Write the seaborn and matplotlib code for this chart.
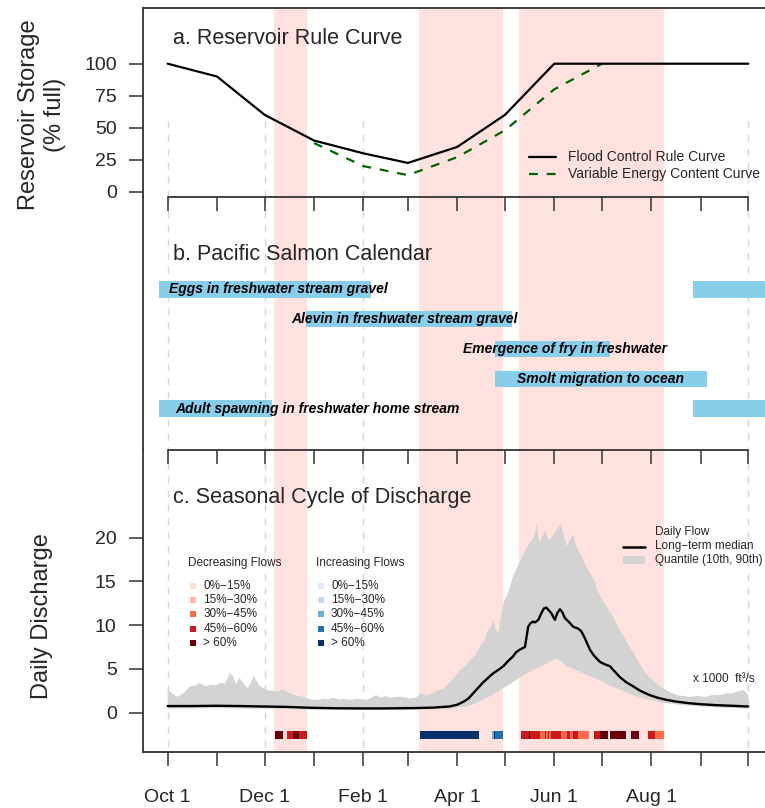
import numpy as np
import pandas as pd
import matplotlib
matplotlib.use("Agg")
import matplotlib.pyplot as plt
import seaborn as sns
from matplotlib.patches import Rectangle
from matplotlib.lines import Line2D

# ------------------------------------------------------------------ data
month_days = [0, 31, 61, 92, 123, 151, 182, 212, 243, 273, 304, 335, 365]
label_days = [0, 61, 123, 182, 243, 304]
label_text = ["Oct 1", "Dec 1", "Feb 1", "Apr 1", "Jun 1", "Aug 1"]
grid_days = [0, 61, 123, 182, 243, 304, 365]

shade_start = [66.8, 158.0, 220.8]
shade_end = [87.4, 210.7, 311.8]

# a. reservoir rule curve (% full)
rule_days = [0, 31, 61, 92, 123, 151, 182, 212, 243, 365]
rule_vals = [100, 90, 60, 40, 30, 22.5, 35, 60, 100, 100]
vec_days = [92, 123, 151, 182, 212, 243, 273]
vec_vals = [38, 20, 13, 27, 48, 80, 100]

# b. salmon calendar (start day, end day)
stage_names = ["Eggs in freshwater stream gravel",
               "Alevin in freshwater stream gravel",
               "Emergence of fry in freshwater",
               "Smolt migration to ocean",
               "Adult spawning in freshwater home stream"]
stage_start = [[-5.7, 330], [86.9], [205.7], [205.7], [-5.7, 330]]
stage_end = [[127.7, 381], [216.2], [277.8], [339.3], [65.3, 381]]
stage_label_day = [69.3, 149.2, 249.7, 272.3, 94.2]

# c. discharge (x 1000 ft3/s)
q90_days = [0, 3, 6, 10, 14, 18, 20, 24, 27, 30, 33, 36, 39, 41, 43, 45, 47, 50,
            52, 54, 56, 58, 62, 66, 69, 72, 76, 79, 83, 87, 90, 94, 98, 101, 104,
            108, 111, 115, 119, 122, 125, 128, 131, 134, 137, 140, 144, 148, 152,
            156, 159, 163, 167, 171, 174, 177, 180, 184, 187, 190, 193, 196, 199,
            201, 203, 205, 206, 208, 210, 211, 214, 217, 219, 221, 223, 226, 229,
            231, 232, 233, 234, 236, 237, 239, 240, 242, 243, 245, 247, 248, 250,
            251, 253, 255, 256, 258, 259, 261, 263, 266, 268, 270, 272, 274, 276,
            278, 280, 282, 284, 286, 288, 290, 293, 296, 299, 302, 305, 308, 311,
            315, 320, 324, 328, 333, 338, 342, 347, 351, 355, 358, 362, 365]
q90_vals = [2.6, 2.2, 1.8, 2.2, 3.0, 3.1, 3.4, 3.0, 3.2, 3.1, 3.4, 3.3, 4.5, 4.2,
            3.2, 4.0, 3.5, 2.8, 3.3, 4.2, 3.6, 3.0, 2.6, 2.5, 2.4, 2.7, 2.3, 2.0,
            1.9, 1.7, 1.5, 1.45, 1.6, 1.5, 1.7, 1.5, 1.6, 1.45, 1.6, 1.5, 1.45,
            1.7, 2.0, 1.7, 1.9, 1.7, 1.8, 1.8, 1.6, 1.7, 2.2, 2.0, 2.25, 2.6, 2.8,
            3.4, 4.0, 4.9, 5.3, 6.0, 6.5, 7.5, 8.2, 9.3, 9.8, 10.6, 9.5, 9.1, 11.5,
            12.5, 13.7, 15.5, 16.3, 17.1, 17.8, 19.0, 19.7, 20.5, 21.8, 20.0, 19.4,
            20.3, 20.9, 20.0, 19.7, 20.2, 20.5, 21.0, 21.6, 21.0, 19.5, 19.0, 19.8,
            20.3, 19.5, 18.6, 18.2, 17.5, 16.7, 15.8, 15.2, 14.0, 13.3, 12.6, 12.1,
            11.5, 11.0, 10.2, 9.5, 9.0, 8.3, 7.6, 6.8, 5.8, 4.9, 4.2, 3.7, 3.2, 2.8,
            2.4, 2.0, 1.9, 1.8, 1.9, 1.8, 2.0, 2.0, 2.2, 2.2, 2.4, 2.6, 2.0]
q10_days = [0, 30, 60, 90, 120, 146, 177, 188, 193, 198, 204, 209, 214, 219, 224,
            229.8, 234, 238, 241, 244.5, 247, 250.8, 255, 261, 266, 271.7, 277,
            282, 287, 292.6, 298, 303, 308, 313.6, 324, 334.7, 350, 365]
q10_vals = [0.45, 0.5, 0.45, 0.35, 0.3, 0.3, 0.4, 0.7, 1.0, 1.45, 2.0, 2.6, 3.1,
            3.7, 4.3, 4.9, 5.2, 5.6, 5.9, 6.2, 5.9, 5.3, 5.0, 4.5, 4.1, 3.7, 3.2,
            2.8, 2.4, 2.0, 1.7, 1.45, 1.25, 1.07, 0.85, 0.7, 0.55, 0.46]
med_days = [0, 15, 30, 45, 60, 75, 90, 105, 120, 135, 146, 155, 167, 177, 182,
            186, 189, 192, 195, 198, 201, 204.7, 208, 211, 214, 217, 219, 221.4,
            224.6, 226.6, 228, 229.8, 231, 233, 235, 236.5, 238, 239.5, 241, 243.4,
            245, 246.6, 248, 249.7, 252, 255, 258, 260, 262, 265.4, 268, 271.7, 275,
            278, 281, 284, 288, 292.6, 297, 303, 308, 313.6, 320, 328, 336, 345,
            355, 365]
med_vals = [0.75, 0.75, 0.78, 0.75, 0.7, 0.65, 0.55, 0.5, 0.48, 0.48, 0.5, 0.52,
            0.57, 0.7, 0.9, 1.25, 1.6, 2.2, 2.8, 3.4, 3.9, 4.5, 4.9, 5.3, 5.9, 6.4,
            6.9, 7.2, 7.5, 9.8, 10.2, 10.4, 10.3, 10.6, 11.4, 11.9, 12.0, 11.7, 11.4,
            10.6, 11.4, 11.8, 11.5, 10.8, 10.4, 9.8, 9.6, 9.3, 8.6, 7.2, 6.5, 5.8,
            5.5, 5.3, 4.7, 4.1, 3.5, 3.0, 2.5, 2.0, 1.7, 1.45, 1.25, 1.07, 0.95,
            0.85, 0.78, 0.7]

# flow-change strip: start day, end day, class
strip_start = [67.3, 75.2, 79.0, 82.5, 158.6, 203.8, 204.9, 205.5,
               222.1, 227.1, 227.8, 234.1, 237.0, 237.6, 238.9, 239.7, 240.8,
               247.3, 251.2, 252.9, 255.0, 258.1, 268.0, 271.8, 278.1, 291.3,
               302.0, 306.4]
strip_end = [72.2, 79.0, 82.5, 87.5, 195.7, 204.9, 205.5, 210.8,
             227.1, 227.8, 234.1, 237.0, 237.6, 238.9, 239.7, 240.8, 247.3,
             251.2, 252.9, 255.0, 258.1, 264.9, 271.8, 277.0, 288.1, 296.3,
             306.4, 311.8]
strip_class = ["D5", "D4", "D5", "D4", "I5", "I3", "I5", "I4",
               "D4", "D5", "D4", "D3", "D4", "D3", "D4", "D3", "D4",
               "D3", "D4", "D3", "D4", "D3", "D4", "D5", "D5", "D5",
               "D4", "D3"]
class_labels = ["0%\u221215%", "15%\u221230%", "30%\u221245%", "45%\u221260%", "> 60%"]
dec_colors = ["#FEE0D2", "#FCBBA1", "#FB6A4A", "#CB181D", "#67000D"]
inc_colors = ["#DEEBF7", "#C6DBEF", "#6BAED6", "#2171B5", "#08306B"]

# ------------------------------------------------------------------ style
sns.set_theme(style="white")
plt.rcParams["font.family"] = ["Liberation Sans", "DejaVu Sans"]
plt.rcParams["axes.unicode_minus"] = True

W, H = 765, 808
fig = plt.figure(figsize=(W / 100, H / 100), dpi=100)
fig.patch.set_facecolor("white")

XL = (-15.5, 380.5)
PXD = (748.3 - 167.7) / 365.0
LEFT = 167.7 - (0 - XL[0]) * PXD
WIDTH = (XL[1] - XL[0]) * PXD
SPINE = "#333333"
SHADE = "#FFE2DE"
GRIDC = "#D6D6D6"


def fx(x):
    return x / W


def fy(y):
    return 1 - y / H


def add_ax(top, bottom, z):
    ax = fig.add_axes([LEFT / W, 1 - bottom / H, WIDTH / W, (bottom - top) / H])
    ax.set_facecolor("none")
    ax.set_zorder(z)
    ax.set_xlim(*XL)
    for s in ax.spines.values():
        s.set_visible(False)
        s.set_color(SPINE)
        s.set_linewidth(1.3)
    ax.spines["left"].set_visible(True)
    ax.set_xticks(month_days)
    ax.tick_params(axis="x", direction="out", length=10, width=1.1, color=SPINE,
                   bottom=True, labelbottom=False)
    ax.grid(False)
    for s0, s1 in zip(shade_start, shade_end):
        ax.axvspan(s0, s1, color=SHADE, lw=0, zorder=1)
    return ax


axa = add_ax(8, 197, 3)
axb = add_ax(197, 450, 2)
axc = add_ax(450, 752, 1)

# ---------------- panel a
axa.set_ylim(-4.1, 143.5)
axa.spines["top"].set_visible(True)
axa.vlines(grid_days, -4.1, 56, colors=GRIDC, linestyles=(0, (5, 5)), lw=1, zorder=0.5)
sns.lineplot(x=rule_days, y=rule_vals, ax=axa, color="black", linewidth=1.6, zorder=4)
sns.lineplot(x=vec_days, y=vec_vals, ax=axa, color="#006400", linewidth=1.6,
             linestyle=(0, (4, 4)), zorder=3)
axa.set_yticks([0, 25, 50, 75, 100])
axa.tick_params(axis="y", direction="out", length=10, width=1.1, color=SPINE,
                left=True, labelsize=14, pad=9)
axa.set_xlabel("")
axa.set_ylabel("")
axa.plot([0, 365], [0, 0], transform=axa.get_xaxis_transform(), color=SPINE,
         lw=1.3, clip_on=False, zorder=5)

# ---------------- panel b
axb.set_ylim(5.39, -3.1)
axb.set_yticks([])
axb.vlines(grid_days, -3.1, 5.39, colors=GRIDC, linestyles=(0, (5, 5)), lw=1, zorder=0.5)
for i, name in enumerate(stage_names):
    for s0, s1 in zip(stage_start[i], stage_end[i]):
        axb.barh(i, s1 - s0, left=s0, height=0.55, color="#87CEEB", lw=0, zorder=2)
    axb.text(stage_label_day[i], i, name, ha="center", va="center", fontsize=10,
             fontweight="bold", fontstyle="italic", color="black", zorder=4)
axb.plot([0, 365], [0, 0], transform=axb.get_xaxis_transform(), color=SPINE,
         lw=1.3, clip_on=False, zorder=5)

# ---------------- panel c
axc.set_ylim(-4.5, 30.0)
axc.spines["bottom"].set_visible(True)
axc.vlines(grid_days, -3.9, 30.0, colors=GRIDC, linestyles=(0, (5, 5)), lw=1, zorder=0.5)
axc.fill(np.concatenate([q90_days, q10_days[::-1]]),
         np.concatenate([q90_vals, q10_vals[::-1]]),
         color="#D3D3D3", lw=0, zorder=2)
sns.lineplot(x=med_days, y=med_vals, ax=axc, color="black", linewidth=1.7, zorder=4)
cmap = {}
for k in range(5):
    cmap["D%d" % (k + 1)] = dec_colors[k]
    cmap["I%d" % (k + 1)] = inc_colors[k]
for s0, s1, c in zip(strip_start, strip_end, strip_class):
    axc.bar(s0, 0.91, width=s1 - s0, bottom=-3.0, align="edge", color=cmap[c],
            lw=0, zorder=3)
axc.set_yticks([0, 5, 10, 15, 20])
axc.tick_params(axis="y", direction="out", length=10, width=1.1, color=SPINE,
                left=True, labelsize=14, pad=9)
lab = dict(zip(label_days, label_text))
axc.set_xticks(month_days)
axc.set_xticklabels([lab.get(d, "") for d in month_days])
axc.tick_params(axis="x", labelbottom=True, labelsize=14, pad=16.5)
axc.set_xlabel("")
axc.set_ylabel("")

# ---------------- titles and axis labels
fig.text(fx(173), fy(39), "a. Reservoir Rule Curve", fontsize=15.5, ha="left", va="center", zorder=10)
fig.text(fx(173), fy(254), "b. Pacific Salmon Calendar", fontsize=15.5, ha="left", va="center", zorder=10)
fig.text(fx(173), fy(497), "c. Seasonal Cycle of Discharge", fontsize=15.5, ha="left", va="center", zorder=10)
fig.text(fx(42), fy(115), "Reservoir Storage\n(% full)", rotation=90, fontsize=17,
         ha="center", va="center", multialignment="center", linespacing=1.25, zorder=10)
fig.text(fx(42.5), fy(616), "Daily Discharge", rotation=90, fontsize=17,
         ha="center", va="center", zorder=10)

# ---------------- legends (figure pixel placement)
def fline(x0, x1, y, **kw):
    fig.add_artist(Line2D([fx(x0), fx(x1)], [fy(y), fy(y)], transform=fig.transFigure,
                          zorder=10, **kw))


def frect(x0, y0, w, h, color):
    fig.add_artist(Rectangle((fx(x0), fy(y0 + h)), w / W, h / H, transform=fig.transFigure,
                             color=color, lw=0, zorder=10))


fline(529, 555.7, 156.7, color="black", lw=1.6)
fline(529, 555.7, 174, color="#006400", lw=1.6, linestyle=(0, (4, 4)))
fig.text(fx(568.3), fy(156.7), "Flood Control Rule Curve", fontsize=10, va="center", zorder=10)
fig.text(fx(568.3), fy(174), "Variable Energy Content Curve", fontsize=10, va="center", zorder=10)

fig.text(fx(655), fy(532.5), "Daily Flow", fontsize=8.5, va="center", zorder=10)
fline(622.7, 645, 546.5, color="black", lw=1.8)
fig.text(fx(655), fy(546.5), "Long\u2212term median", fontsize=8.5, va="center", zorder=10)
frect(622.7, 555.5, 22.3, 8, "#D3D3D3")
fig.text(fx(655), fy(560), "Quantile (10th, 90th)", fontsize=8.5, va="center", zorder=10)
fig.text(fx(692.7), fy(679.3), "x 1000  ft\u00b3/s", fontsize=8.5, va="center", zorder=10)

rows_y = [586, 600, 614.3, 628.7, 643.3]
fig.text(fx(188.3), fy(562.7), "Decreasing Flows", fontsize=8.5, va="center", zorder=10)
fig.text(fx(315.7), fy(562.7), "Increasing Flows", fontsize=8.5, va="center", zorder=10)
for k, yy in enumerate(rows_y):
    frect(190, yy - 3, 6, 6, dec_colors[k])
    fig.text(fx(203.3), fy(yy), class_labels[k], fontsize=8.5, va="center", zorder=10)
    frect(317.5, yy - 3, 6, 6, inc_colors[k])
    fig.text(fx(331), fy(yy), class_labels[k], fontsize=8.5, va="center", zorder=10)

fig.savefig("out.png", dpi=100)
